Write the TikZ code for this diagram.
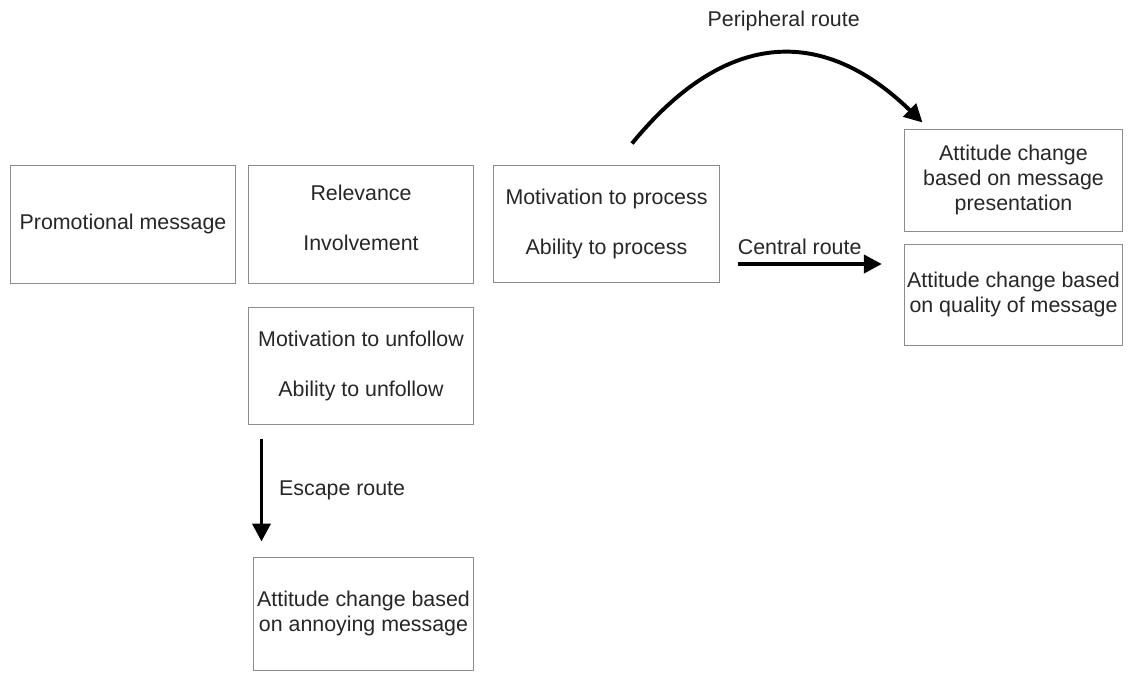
\documentclass[tikz,border=0pt]{standalone}
\usepackage{fontspec}
\setmainfont{Liberation Sans}
\usetikzlibrary{arrows.meta,calc}
\tikzset{
  box/.style={draw=black!45, line width=0.7pt, align=center, inner sep=2pt},
  route/.style={line width=2.8pt, -{Triangle[length=0.45cm,width=0.45cm]}}
}
\begin{document}
\begin{tikzpicture}[x=0.025cm, y=-0.025cm, font=\fontsize{15.2pt}{17.8pt}\selectfont, text=black!85]
\useasboundingbox (0,0) rectangle (1129,673);
% draw the boxes of the first row
\node[box, minimum width=5.6cm, minimum height=2.95cm] (promo) at (123,224) {Promotional message};
\node[box, minimum width=5.6cm, minimum height=2.95cm] (relev) at (361,224) {Relevance\\[0.625cm] Involvement\\[-0.32cm]};
\node[box, minimum width=5.625cm, minimum height=2.925cm] (proc) at (606.5,223.5) {Motivation to process\\[0.625cm] Ability to process};

% draw the boxes on the right
\node[box, minimum width=5.425cm, minimum height=2.55cm] (pres) at (1013.5,180) {Attitude change\\ based on message\\ presentation};
\node[box, minimum width=5.425cm, minimum height=2.525cm] (qual) at (1013.5,294.5) {Attitude change based\\ on quality of message};

% draw the boxes below
\node[box, minimum width=5.6cm, minimum height=2.925cm] (unfol) at (361,365.5) {Motivation to unfollow\\[0.625cm] Ability to unfollow};
\node[box, minimum width=5.475cm, minimum height=2.825cm] (annoy) at (363.5,613.5) {Attitude change based\\ on annoying message};

% draw the routes
\draw[route] ($(proc.north)+(25.5,-21)$) .. controls (724,31) and (821,24) .. ($(pres.north west)+(18,-6)$)
  node[pos=0.5, above=0.4cm, xshift=0.25cm] (plbl) {Peripheral route};
\draw[route] ($(proc.east)+(18,40.5)$) -- ($(qual.west |- proc.east)+(-22,40.5)$)
  node[midway, above=2pt, xshift=-0.25cm] (clbl) {Central route};
\draw[route] ($(unfol.south west)+(13,14)$) -- ($(unfol.south west |- annoy.north)+(13,-15)$)
  node[midway, right=0.275cm] (elbl) {Escape route};
\end{tikzpicture}
\end{document}
